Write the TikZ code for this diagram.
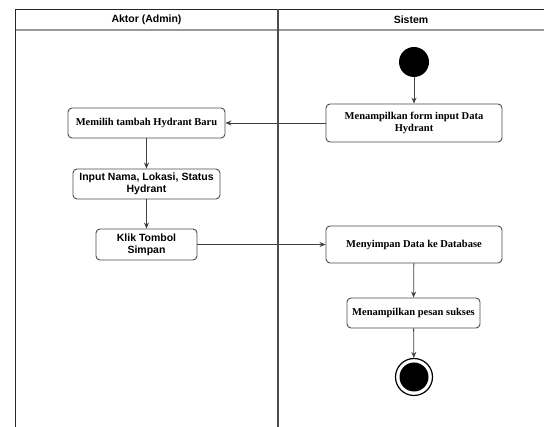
\documentclass[tikz,border=0pt]{standalone}
\usepackage{fontspec}
\setmainfont{Liberation Serif}
\setsansfont{Liberation Sans}
\usetikzlibrary{positioning, arrows.meta}
\tikzset{
    >={Stealth[length=6pt, width=5pt]}, % small filled arrow heads
    act/.style={draw=black!70, line width=0.9pt, fill=white, rounded corners=4pt, align=center, inner sep=2pt,
        font=\rmfamily\bfseries\fontsize{10.5}{12}\selectfont}, % serif activity box
    actsans/.style={act, font=\sffamily\bfseries\fontsize{10.5}{12}\selectfont}, % sans activity box
    lane/.style={font=\sffamily\bfseries\fontsize{10.5}{12}\selectfont}, % lane titles
    flow/.style={->, draw=black!75, line width=0.8pt},
}

\begin{document}
\begin{tikzpicture}[x=1pt, y=-1pt]
    \useasboundingbox (0,0) rectangle (544,427);
    % swimlanes
    \draw[black!85, line width=1.2pt] (15.5,427) -- (15.5,9.5) -- (544,9.5);
    \draw[black!40, line width=1.2pt] (15.5,30) -- (544,30);
    \draw[black!70, line width=2pt] (278,9.5) -- (278,427);
    \node[lane] (aktor) at (146.5,20) {Aktor (Admin)};
    \node[lane] (sistem) at (411,20) {Sistem};
    % states
    \node[circle, fill=black, minimum size=30pt, inner sep=0pt] (start) at (414,62) {};
    \node[act, minimum width=176pt, minimum height=38pt] (form) at (414,123) {Menampilkan form input Data\\Hydrant};
    \node[act, minimum width=157pt, minimum height=30pt] (pilih) at (146.5,123) {Memilih tambah Hydrant Baru};
    \node[actsans, minimum width=147pt, minimum height=30pt] (input) at (146.5,184) {Input Nama, Lokasi, Status\\Hydrant};
    \node[actsans, minimum width=101pt, minimum height=31pt] (klik) at (146.5,244.5) {Klik Tombol\\Simpan};
    \node[act, minimum width=176pt, minimum height=37pt] (simpan) at (414,244.5) {Menyimpan Data ke Database};
    \node[act, minimum width=133pt, minimum height=30pt] (pesan) at (413.5,313) {Menampilkan pesan sukses};
    \node[circle, draw=black, line width=1.2pt, minimum size=37pt, inner sep=0pt] (end) at (414,377) {};
    \node[circle, fill=black, minimum size=29pt, inner sep=0pt] (endin) at (end) {};
    % transitions
    \draw[flow] (start) -- (form);
    \draw[flow] (form) -- (pilih);
    \draw[flow] (pilih) -- (input);
    \draw[flow] (input) -- (klik);
    \draw[flow] (klik) -- (simpan);
    \draw[flow] (simpan) -- (pesan);
    \draw[flow] (pesan) -- (end);
\end{tikzpicture}
\end{document}
